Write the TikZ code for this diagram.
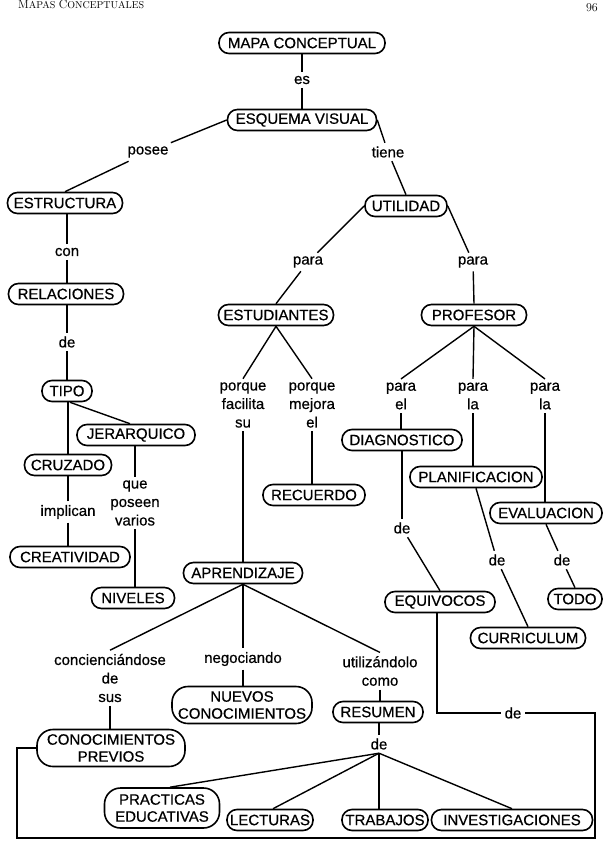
\documentclass[tikz,border=0pt]{standalone}
\usepackage{fontspec}
\setmainfont{Liberation Sans}
\newfontfamily\mapfont[FakeBold=0.6]{Liberation Sans}
\newfontfamily\hdrfont{Latin Modern Roman}
\begin{document}
\begin{tikzpicture}[x=1pt,y=-1pt,
  concept/.style={draw, line width=1.6pt, rectangle, rounded corners=10pt,
    minimum height=21pt, inner xsep=3pt, inner ysep=2pt,
    font=\mapfont\fontsize{15}{17}\selectfont},
  concepttwo/.style={draw, line width=1.6pt, rectangle, rounded corners=16pt,
    align=center, inner xsep=3pt, inner ysep=4pt,
    font=\mapfont\fontsize{15}{17}\selectfont},
  lab/.style={align=center, inner sep=3.5pt, font=\mapfont\fontsize{15}{18.5}\selectfont},
  link/.style={line width=1.4pt}]
\useasboundingbox (0,0) rectangle (605,848);
\fill[white] (0,0) rectangle (605,848);
% header
\node[anchor=base west, inner sep=0pt, font=\hdrfont] (hdr) at (18,8.5)
  {{\fontsize{12}{12}\selectfont M}{\fontsize{10}{10}\selectfont APAS} {\fontsize{12}{12}\selectfont C}{\fontsize{10}{10}\selectfont ONCEPTUALES}};
\node[anchor=base east, inner sep=0pt, font=\hdrfont\fontsize{12}{12}\selectfont] (pg) at (598,12) {96};
% concepts
\node[concept, minimum width=166pt] (mc) at (302,43) {MAPA CONCEPTUAL};
\node[concept, minimum width=149pt] (ev) at (302,120) {ESQUEMA VISUAL};
\node[concept, minimum width=115pt] (estr) at (65,203) {ESTRUCTURA};
\node[concept, minimum width=82pt] (util) at (406,206) {UTILIDAD};
\node[concept, minimum width=115pt] (rel) at (66,294) {RELACIONES};
\node[concept, minimum width=115pt] (estu) at (276,315) {ESTUDIANTES};
\node[concept, minimum width=105pt] (prof) at (474,315) {PROFESOR};
\node[concept, minimum width=50pt] (tipo) at (67,391) {TIPO};
\node[concept, minimum width=118pt] (jer) at (136,435) {JERARQUICO};
\node[concept, minimum width=87pt] (cruz) at (68,465) {CRUZADO};
\node[concept, minimum width=120pt] (diag) at (402,440) {DIAGNOSTICO};
\node[concept, minimum width=102pt] (rec) at (314,495) {RECUERDO};
\node[concept, minimum width=132pt] (plan) at (476,477) {PLANIFICACION};
\node[concept, minimum width=112pt] (eval) at (546,513) {EVALUACION};
\node[concept, minimum width=120pt] (creat) at (70,557) {CREATIVIDAD};
\node[concept, minimum width=119pt] (aprend) at (243,573) {APRENDIZAJE};
\node[concept, minimum width=83pt] (niv) at (133,598) {NIVELES};
\node[concept, minimum width=110pt] (equiv) at (440,602) {EQUIVOCOS};
\node[concept, minimum width=54pt] (todo) at (575,599) {TODO};
\node[concept, minimum width=115pt] (curr) at (528,638) {CURRICULUM};
\node[concepttwo, minimum width=140pt, minimum height=37pt] (nc) at (242,705) {NUEVOS\\CONOCIMIENTOS};
\node[concept, minimum width=90pt] (res) at (378,712) {RESUMEN};
\node[concepttwo, minimum width=148pt, minimum height=37pt] (cp) at (111,748) {CONOCIMIENTOS\\PREVIOS};
\node[concepttwo, minimum width=115pt, minimum height=40pt] (prac) at (162,808) {PRACTICAS\\EDUCATIVAS};
\node[concept, minimum width=86pt] (lect) at (270,820) {LECTURAS};
\node[concept, minimum width=86pt] (trab) at (385,820) {TRABAJOS};
\node[concept, minimum width=161pt] (inv) at (512,820) {INVESTIGACIONES};
% linking words
\node[lab] (es) at (302,80) {es};
\node[lab] (posee) at (148,152) {posee};
\node[lab] (tiene) at (388,152) {tiene};
\node[lab] (con) at (67,252) {con};
\node[lab] (para1) at (308,262) {para};
\node[lab] (para2) at (473,262) {para};
\node[lab] (de1) at (67,342) {de};
\node[lab] (pfs) at (243,405) {porque\\facilita\\su};
\node[lab] (pme) at (312,405) {porque\\mejora\\el};
\node[lab] (pel) at (401,396) {para\\el};
\node[lab] (pla1) at (473,396) {para\\la};
\node[lab] (pla2) at (545,396) {para\\la};
\node[lab] (qpv) at (135,503) {que\\poseen\\varios};
\node[lab] (impl) at (68,512) {implican};
\node[lab] (de2) at (402,528) {de};
\node[lab] (de3) at (497,560) {de};
\node[lab] (de4) at (562,560) {de};
\node[lab] (conc) at (110,678) {concienciándose\\de\\sus};
\node[lab] (neg) at (243,659) {negociando};
\node[lab] (util2) at (380,671) {utilizándolo\\como};
\node[lab] (de5) at (379,744) {de};
\node[lab] (deF) at (513,713) {de};
% frame corners
\coordinate (fA) at (437,713);
\coordinate (fB) at (595,713);
\coordinate (fC) at (595,838);
\coordinate (fD) at (17,838);
\coordinate (fE) at (17,748);
% connectors
\begin{scope}[link]
\draw (mc) -- (es) -- (ev);
\draw (ev.west) -- (posee) -- (estr.north);
\draw (ev.east) -- (tiene) -- (util.north);
\draw (util.west) -- (para1) -- (estu.north);
\draw (util.east) -- (para2) -- (prof.north);
\draw (con) -- (con |- estr.south);
\draw (con) -- (con |- rel.north);
\draw (de1) -- (de1 |- rel.south);
\draw (de1) -- (de1 |- tipo.north);
\draw (tipo.south -| cruz) -- (cruz.north);
\draw ([xshift=3pt]tipo.south) -- ([xshift=-6pt]jer.north);
\draw (qpv) -- (qpv |- jer.south);
\draw (qpv) -- (qpv |- niv.north);
\draw (impl) -- (impl |- cruz.south);
\draw (impl) -- (impl |- creat.north);
\draw (estu.south) -- (pfs.north);
\draw (estu.south) -- (pme.north);
\draw (pfs) -- (pfs |- aprend.north);
\draw (pme) -- (pme |- rec.north);
\draw (prof.south) -- (pel.north);
\draw (prof.south) -- (pla1.north);
\draw (prof.south) -- (pla2.north);
\draw (pel) -- (pel |- diag.north);
\draw (pla1) -- (pla1 |- plan.north);
\draw (pla2) -- (pla2 |- eval.north);
\draw (de2) -- (de2 |- diag.south);
\draw (de2) -- (equiv.north);
\draw (plan.south) -- (de3) -- (curr.north);
\draw (eval.south) -- (de4) -- (todo.north);
\draw (aprend.south) -- (conc.north);
\draw (aprend.south) -- (neg.north);
\draw (aprend.south) -- (util2.north);
\draw (conc) -- (conc |- cp.north);
\draw (neg) -- (neg |- nc.north);
\draw (util2) -- (util2 |- res.north);
\draw (de5) -- (de5 |- res.south);
\draw (de5.south) -- ([xshift=8pt]prac.north);
\draw (de5.south) -- ([xshift=3pt]lect.north);
\draw (de5.south) -- (de5.south |- trab.north);
\draw (de5.south) -- (inv.north);
\draw (equiv.south -| fA) -- (fA) -- (deF);
\draw (deF) -- (fB) -- (fC) -- (fD) -- (fE) -- (cp);
\end{scope}
\end{tikzpicture}
\end{document}
